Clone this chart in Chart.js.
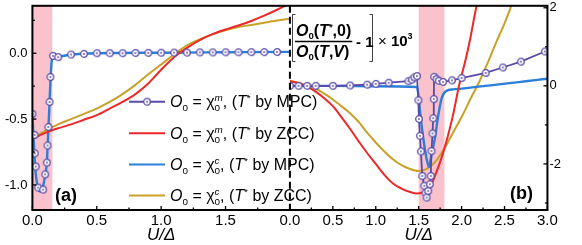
<!DOCTYPE html>
<html>
<head>
<meta charset="utf-8">
<script src="https://cdn.jsdelivr.net/npm/chart.js@4.4.1/dist/chart.umd.min.js"></script>
<style>
  html, body { margin: 0; padding: 0; background: #fff; }
</style>
</head>
<body>
<canvas id="chart" width="582" height="245"></canvas>
<script>
// ---- axes ----
// panel (a): left axis, U/Δ 0..2
const aRangeX = [0, 2];
const aRangeY = [-1.19, 0.36];
const aTicksX = [0, 0.5, 1.0, 1.5];
const aMinorX = [0.25, 0.75, 1.25, 1.75];
const aTicksY = [-1.0, -0.5, 0.0];
const aMinorY = [-0.75, -0.25, 0.25];
const aBand = [0, 0.155];
// panel (b): right axis, U/Δ 0..3
const bRangeX = [0, 3];
const bRangeY = [-3.18, 2.05];
const bTicksX = [0, 0.5, 1.0, 1.5, 2.0, 2.5, 3.0];
const bMinorX = [0.25, 0.75, 1.25, 1.75, 2.25, 2.75];
const bTicksY = [-2, 0, 2];
const bMinorY = [-3, -1, 1];
const bBand = [1.5, 1.8];

// ---- legend ----
const legendSup = ['m', 'm', 'c', 'c'];
const legendMethod = ['MPC', 'ZCC', 'MPC', 'ZCC'];

// ---- panel (a) data ----
const aMagMpcU = [0, 0.016, 0.018, 0.026, 0.044, 0.083, 0.099, 0.112, 0.117, 0.124, 0.133, 0.14, 0.16,
  0.2, 0.3, 0.4, 0.5, 0.6, 0.7, 0.8, 0.9, 1.0, 1.1, 1.2, 1.3, 1.4, 1.5, 1.6, 1.7, 1.8, 1.9];
const aMagMpcV = [-0.46, -0.62, -0.76, -0.86, -1.02, -1.035, -0.92, -0.83, -0.70, -0.56, -0.37, -0.18, -0.02,
  -0.03, -0.01, -0.005, 0, 0, 0, 0.002, 0.003, 0.004, 0.005, 0.005, 0.006, 0.006, 0.007, 0.007, 0.008, 0.008, 0.009];
const aMagZccU = [0, 0.1, 0.2, 0.3, 0.4, 0.5, 0.6, 0.7, 0.8, 0.9, 1.0, 1.1, 1.2, 1.3, 1.4, 1.5, 1.6, 1.7, 1.8, 1.9, 2.0];
const aMagZccV = [-0.65, -0.605, -0.57, -0.54, -0.505, -0.47, -0.42, -0.37, -0.31, -0.23, -0.125, -0.03, 0.04, 0.1, 0.145, 0.18, 0.21, 0.245, 0.285, 0.33, 0.38];
const aChgMpcU = [0, 0.01, 0.02, 0.03, 0.045, 0.06, 0.08, 0.1, 0.112, 0.124, 0.133, 0.142, 0.155, 0.165, 0.2, 0.3, 0.5, 1.0, 1.5, 2.0];
const aChgMpcV = [-0.46, -0.66, -0.84, -0.95, -1.03, -1.05, -1.02, -0.92, -0.83, -0.58, -0.38, -0.17, -0.03, -0.02, -0.025, -0.01, 0, 0.004, 0.007, 0.01];
const aChgZccU = [0, 0.1, 0.2, 0.3, 0.4, 0.5, 0.6, 0.7, 0.8, 0.9, 1.0, 1.1, 1.2, 1.3, 1.4, 1.5, 1.6, 1.7, 1.8, 1.9, 2.0];
const aChgZccV = [-0.65, -0.59, -0.54, -0.5, -0.46, -0.42, -0.37, -0.31, -0.24, -0.16, -0.085, -0.01, 0.06, 0.105, 0.145, 0.175, 0.198, 0.215, 0.232, 0.248, 0.262];

// ---- panel (b) data ----
const bMagMpcU = [0, 0.1, 0.2, 0.3, 0.5, 0.7, 0.9, 1.0, 1.15, 1.38, 1.42, 1.45, 1.48,
  1.496, 1.503, 1.514, 1.526, 1.542, 1.565, 1.58, 1.592, 1.611, 1.63, 1.641, 1.649, 1.661, 1.669, 1.676, 1.68,
  1.707, 1.734, 1.784, 1.888, 2.0, 2.28, 2.48, 2.69, 2.97];
const bMagMpcV = [0, 0, 0, 0, 0, 0.01, 0.03, 0.05, 0.08, 0.12, 0.16, 0.22, 0.25,
  -0.37, -0.85, -1.28, -1.68, -2.31, -2.56, -2.74, -2.86, -2.69, -2.52, -2.31, -1.67, -1.22, -0.83, -0.34, 0.23,
  0.17, 0.13, 0.1, 0.14, 0.2, 0.33, 0.47, 0.62, 0.88];
const bMagZccU = [0, 0.1, 0.2, 0.3, 0.4, 0.5, 0.6, 0.7, 0.8, 0.9, 1.0, 1.1, 1.2, 1.3, 1.4, 1.48, 1.55, 1.63, 1.7, 1.78, 1.85, 1.9, 1.97, 2.05, 2.1, 2.17, 2.22];
const bMagZccV = [0.12, 0.07, -0.02, -0.15, -0.32, -0.52, -0.8, -1.1, -1.42, -1.72, -2.0, -2.28, -2.5, -2.63, -2.72, -2.76, -2.72, -2.6, -2.25, -1.75, -1.2, -0.75, 0.0, 0.7, 1.2, 2.0, 2.4];
const bChgMpcU = [0, 0.5, 1.0, 1.48, 1.5, 1.515, 1.553, 1.59, 1.62, 1.65, 1.69, 1.73, 1.77, 1.82, 1.9, 2.0, 3.0];
const bChgMpcV = [0, 0, -0.01, -0.03, -0.3, -0.64, -1.33, -1.84, -2.08, -1.75, -1.33, -0.73, -0.3, -0.13, -0.09, -0.07, 0.18];
const bChgZccU = [0, 0.1, 0.2, 0.3, 0.4, 0.5, 0.6, 0.7, 0.8, 0.9, 1.0, 1.1, 1.2, 1.3, 1.4, 1.5, 1.6, 1.7, 1.8, 1.9, 2.0, 2.1, 2.2, 2.3, 2.4, 2.5, 2.57, 2.62];
const bChgZccV = [0.13, 0.08, 0.0, -0.07, -0.2, -0.35, -0.52, -0.7, -0.92, -1.2, -1.45, -1.68, -1.88, -2.03, -2.13, -2.18, -2.12, -1.93, -1.6, -1.2, -0.8, -0.35, 0.08, 0.57, 1.1, 1.6, 2.0, 2.3];

const FONT = '"Liberation Sans", Arial, Helvetica, sans-serif';
const PURPLE = '#5b4aa5', RED = '#ec2828', BLUE = '#2a7fd8', GOLD = '#c9a128', PINK = '#f9c2cc';

const pts = (us, vs) => us.map((u, i) => ({x: u, y: vs[i]}));

// open circle with a dot in the middle
function makeMarker(color) {
  const c = document.createElement('canvas');
  c.width = 10; c.height = 10;
  const g = c.getContext('2d');
  g.beginPath(); g.arc(5, 5, 3.3, 0, Math.PI * 2);
  g.fillStyle = '#fff'; g.fill();
  g.lineWidth = 1.3; g.strokeStyle = color; g.stroke();
  g.beginPath(); g.arc(5, 5, 0.9, 0, Math.PI * 2);
  g.fillStyle = color; g.fill();
  return c;
}
const marker = makeMarker(PURPLE);

// draws a run of text pieces (italic / bold / sub / sup)
function rich(ctx, x, y, parts, size) {
  let cx = x, prevStart = x;
  for (const p of parts) {
    const s = size * (p.k || 1);
    ctx.font = (p.i ? 'italic ' : '') + (p.b ? 'bold ' : '') + s + 'px ' + FONT;
    const start = p.over ? prevStart : cx;
    ctx.fillText(p.t, start, y + (p.dy || 0));
    const end = start + ctx.measureText(p.t).width;
    if (!p.over) prevStart = start;
    cx = p.over ? Math.max(cx, end) : end;
  }
  return cx;
}

const bands = {
  id: 'bands',
  beforeDatasetsDraw(chart) {
    const {ctx, chartArea: ca, scales} = chart;
    ctx.save();
    ctx.fillStyle = PINK;
    [[scales.xa, aBand], [scales.xb, bBand]].forEach(([s, r]) => {
      const x0 = s.getPixelForValue(r[0]), x1 = s.getPixelForValue(r[1]);
      ctx.fillRect(x0, ca.top, x1 - x0, ca.height);
    });
    ctx.restore();
  }
};

const frame = {
  id: 'frame',
  afterDatasetsDraw(chart) {
    const {ctx, chartArea: ca, scales} = chart;
    ctx.save();
    ctx.strokeStyle = '#000';
    // inward tick marks
    ctx.lineWidth = 1.3;
    const tx = (s, vals, len) => vals.forEach(v => {
      const p = s.getPixelForValue(v);
      ctx.beginPath(); ctx.moveTo(p, ca.bottom); ctx.lineTo(p, ca.bottom - len); ctx.stroke();
    });
    const tyL = (s, vals, len) => vals.forEach(v => {
      const p = s.getPixelForValue(v);
      ctx.beginPath(); ctx.moveTo(ca.left, p); ctx.lineTo(ca.left + len, p); ctx.stroke();
    });
    const tyR = (s, vals, len) => vals.forEach(v => {
      const p = s.getPixelForValue(v);
      ctx.beginPath(); ctx.moveTo(ca.right, p); ctx.lineTo(ca.right - len, p); ctx.stroke();
    });
    tx(scales.xa, aTicksX, 4); tx(scales.xa, aMinorX, 2.5);
    tx(scales.xb, bTicksX, 4); tx(scales.xb, bMinorX, 2.5);
    tyL(scales.ya, aTicksY, 4); tyL(scales.ya, aMinorY, 2.5);
    tyR(scales.yb, bTicksY, 4); tyR(scales.yb, bMinorY, 2.5);
    // box
    ctx.lineWidth = 2;
    ctx.strokeRect(ca.left, ca.top, ca.width, ca.height);
    // divider between the panels
    ctx.setLineDash([7, 4]);
    ctx.beginPath();
    ctx.moveTo(scales.xb.left, ca.top);
    ctx.lineTo(scales.xb.left, ca.bottom);
    ctx.stroke();
    ctx.restore();
  }
};

const notes = {
  id: 'notes',
  afterDraw(chart) {
    const {ctx} = chart;
    ctx.save();
    ctx.fillStyle = '#000';
    ctx.textBaseline = 'alphabetic';
    ctx.textAlign = 'left';

    // legend
    const colors = [PURPLE, RED, BLUE, GOLD];
    const rows = [101.7, 133.3, 164.5, 195.5];
    rows.forEach((y, i) => {
      ctx.strokeStyle = colors[i];
      ctx.lineWidth = 2;
      ctx.beginPath(); ctx.moveTo(129, y); ctx.lineTo(165, y); ctx.stroke();
      if (i === 0) ctx.drawImage(marker, 147 - 5, y - 5);
      ctx.fillStyle = '#000';
      rich(ctx, 170, y + 5.5, [
        {t: 'O', i: 1}, {t: '0', k: 0.62, dy: 4}, {t: ' = \u03c7'},
        {t: '0', k: 0.62, dy: 4}, {t: legendSup[i], k: 0.62, dy: -6, i: 1, over: 1},
        {t: ', ('}, {t: 'T', i: 1}, {t: '*', k: 0.62, dy: -6},
        {t: ' by ' + legendMethod[i] + ')'}
      ], 16);
    });

    // formula box in panel (b)
    ctx.strokeStyle = '#444';
    ctx.lineWidth = 1;
    const bracket = (x, dir) => {
      ctx.beginPath();
      ctx.moveTo(x + 3 * dir, 14.5); ctx.lineTo(x, 14.5); ctx.lineTo(x, 61.5); ctx.lineTo(x + 3 * dir, 61.5);
      ctx.stroke();
    };
    bracket(292.5, 1);
    bracket(372.5, -1);
    const numEnd = rich(ctx, 296, 36, [
      {t: 'O', b: 1, i: 1}, {t: '0', b: 1, k: 0.6, dy: 3}, {t: '(', b: 1}, {t: 'T', b: 1, i: 1},
      {t: '*', b: 1, k: 0.6, dy: -6}, {t: ',0)', b: 1}
    ], 16);
    rich(ctx, 296, 57, [
      {t: 'O', b: 1, i: 1}, {t: '0', b: 1, k: 0.6, dy: 3}, {t: '(', b: 1}, {t: 'T', b: 1, i: 1},
      {t: ',', b: 1}, {t: 'V', b: 1, i: 1}, {t: ')', b: 1}
    ], 16);
    ctx.strokeStyle = '#000';
    ctx.lineWidth = 1.5;
    ctx.beginPath(); ctx.moveTo(295, 41.5); ctx.lineTo(numEnd + 1, 41.5); ctx.stroke();
    rich(ctx, 356, 47, [{t: '- 1', b: 1}], 15);
    rich(ctx, 378, 46, [{t: '\u00d7 '}, {t: '10', b: 1}, {t: '3', b: 1, k: 0.6, dy: -7}], 15);

    // panel labels
    ctx.font = 'bold 18px ' + FONT;
    ctx.fillText('(a)', 55, 201);
    ctx.fillText('(b)', 510, 199);
    ctx.restore();
  }
};

const noPad = s => { s.paddingTop = 0; s.paddingBottom = 0; s.paddingLeft = 0; s.paddingRight = 0; };
const setTicks = vals => s => { s.ticks = vals.map(v => ({value: v})); };

const xScale = (range, ticks) => ({
  type: 'linear', axis: 'x', position: 'bottom', stack: 'u', stackWeight: 1,
  min: range[0], max: range[1],
  grid: {display: false, drawTicks: false}, border: {display: false},
  afterBuildTicks: setTicks(ticks), afterFit: noPad,
  ticks: {autoSkip: false, maxRotation: 0, padding: 3, color: '#000',
    font: {family: FONT, size: 15, lineHeight: 1}, callback: v => v.toFixed(1)},
  title: {display: true, text: 'U/\u0394', color: '#000', padding: {top: -4, bottom: 1},
    font: {family: FONT, size: 17, style: 'italic', lineHeight: 1}}
});

new Chart(document.getElementById('chart'), {
  type: 'line',
  data: {
    datasets: [
      {data: pts(aMagMpcU, aMagMpcV), xAxisID: 'xa', yAxisID: 'ya', showLine: false,
        pointStyle: marker, pointRadius: 3.5, borderColor: PURPLE},
      {data: pts(aMagZccU, aMagZccV), xAxisID: 'xa', yAxisID: 'ya', borderColor: RED, borderWidth: 2,
        pointRadius: 0, cubicInterpolationMode: 'monotone'},
      {data: pts(aChgMpcU, aChgMpcV), xAxisID: 'xa', yAxisID: 'ya', borderColor: BLUE, borderWidth: 2.4,
        pointRadius: 0, cubicInterpolationMode: 'monotone'},
      {data: pts(aChgZccU, aChgZccV), xAxisID: 'xa', yAxisID: 'ya', borderColor: GOLD, borderWidth: 2,
        pointRadius: 0, cubicInterpolationMode: 'monotone'},
      {data: pts(bMagMpcU, bMagMpcV), xAxisID: 'xb', yAxisID: 'yb', borderColor: PURPLE, borderWidth: 1.8,
        pointStyle: marker, pointRadius: 3.5, tension: 0},
      {data: pts(bMagZccU, bMagZccV), xAxisID: 'xb', yAxisID: 'yb', borderColor: RED, borderWidth: 2,
        pointRadius: 0, cubicInterpolationMode: 'monotone'},
      {data: pts(bChgMpcU, bChgMpcV), xAxisID: 'xb', yAxisID: 'yb', borderColor: BLUE, borderWidth: 2.4,
        pointRadius: 0, cubicInterpolationMode: 'monotone'},
      {data: pts(bChgZccU, bChgZccV), xAxisID: 'xb', yAxisID: 'yb', borderColor: GOLD, borderWidth: 2,
        pointRadius: 0, cubicInterpolationMode: 'monotone'}
    ]
  },
  options: {
    responsive: false,
    animation: false,
    events: [],
    layout: {padding: {top: 5, right: 19, bottom: 0, left: 0}},
    plugins: {legend: {display: false}, tooltip: {enabled: false}},
    scales: {
      xa: xScale(aRangeX, aTicksX),
      xb: xScale(bRangeX, bTicksX),
      ya: {
        type: 'linear', axis: 'y', position: 'left', min: aRangeY[0], max: aRangeY[1],
        grid: {display: false, drawTicks: false}, border: {display: false},
        afterBuildTicks: setTicks(aTicksY), afterFit: noPad,
        ticks: {autoSkip: false, padding: 5, color: '#000', font: {family: FONT, size: 13},
          callback: v => v.toFixed(1)}
      },
      yb: {
        type: 'linear', axis: 'y', position: 'right', min: bRangeY[0], max: bRangeY[1],
        grid: {display: false, drawTicks: false}, border: {display: false},
        afterBuildTicks: setTicks(bTicksY), afterFit: noPad,
        ticks: {autoSkip: false, padding: 2, color: '#000', font: {family: FONT, size: 13},
          callback: v => String(v)}
      }
    }
  },
  plugins: [bands, frame, notes]
});
</script>
</body>
</html>
